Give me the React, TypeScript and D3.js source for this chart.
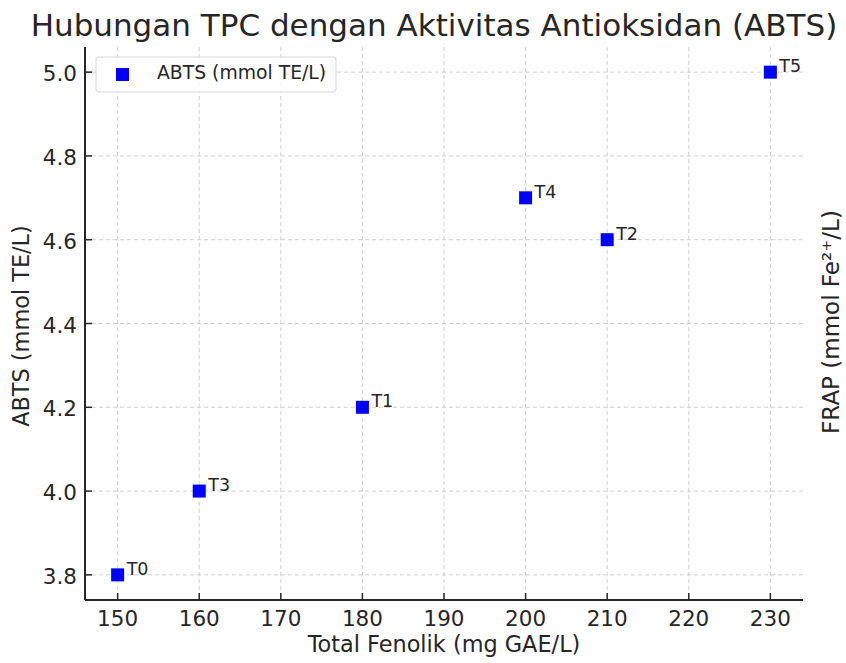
import React from "react";
import * as d3 from "d3";

const labels = ["T0", "T1", "T2", "T3", "T4", "T5"];
const tpc = [150, 180, 210, 160, 200, 230];
const abts = [3.8, 4.2, 4.6, 4.0, 4.7, 5.0];
const xTicks = [150, 160, 170, 180, 190, 200, 210, 220, 230];
const yTicks = [3.8, 4.0, 4.2, 4.4, 4.6, 4.8, 5.0];

const W = 846;
const H = 663;
const left = 85;
const right = 803;
const top = 47;
const bottom = 600;
const font = "DejaVu Sans, sans-serif";

export default function App() {
  const x = d3.scaleLinear().domain([146, 234]).range([left, right]);
  const y = d3.scaleLinear().domain([3.74, 5.06]).range([bottom, top]);
  const ink = "#262626";
  return (
    <svg width={W} height={H} style={{ position: "absolute", left: 0, top: 0, background: "#fff" }} fontFamily={font}>
      <rect width={W} height={H} fill="#fff" />
      {xTicks.map((t) => (
        <line key={"gx" + t} x1={x(t)} x2={x(t)} y1={top} y2={bottom} stroke="#cfcfcf" strokeDasharray="4,3" strokeWidth={1} />
      ))}
      {yTicks.map((t) => (
        <line key={"gy" + t} x1={left} x2={right} y1={y(t)} y2={y(t)} stroke="#cfcfcf" strokeDasharray="4,3" strokeWidth={1} />
      ))}
      <line x1={left} x2={left} y1={top} y2={bottom} stroke={ink} strokeWidth={2} />
      <line x1={left} x2={right} y1={bottom} y2={bottom} stroke={ink} strokeWidth={2} />
      {xTicks.map((t) => (
        <g key={"tx" + t}>
          <line x1={x(t)} x2={x(t)} y1={bottom} y2={bottom - 7} stroke={ink} strokeWidth={1.5} />
          <text x={x(t)} y={bottom + 26} textAnchor="middle" fontSize={21.5} fill={ink}>{t}</text>
        </g>
      ))}
      {yTicks.map((t) => (
        <g key={"ty" + t}>
          <line x1={left} x2={left + 7} y1={y(t)} y2={y(t)} stroke={ink} strokeWidth={1.5} />
          <text x={left - 8} y={y(t) + 9} textAnchor="end" fontSize={21.5} fill={ink}>{t.toFixed(1)}</text>
        </g>
      ))}
      {labels.map((l, i) => (
        <g key={l}>
          <rect x={x(tpc[i]) - 6.5} y={y(abts[i]) - 6.5} width={13} height={13} fill="#0000ff" />
          <text x={x(tpc[i]) + 9} y={y(abts[i])} fontSize={17.5} fill={ink}>{l}</text>
        </g>
      ))}
      <text x={434} y={36} textAnchor="middle" fontSize={31} fill={ink}>Hubungan TPC dengan Aktivitas Antioksidan (ABTS)</text>
      <text x={444} y={652} textAnchor="middle" fontSize={22.4} fill={ink}>Total Fenolik (mg GAE/L)</text>
      <text transform={`translate(29,326) rotate(-90)`} textAnchor="middle" fontSize={22.4} fill={ink}>ABTS (mmol TE/L)</text>
      <text transform={`translate(839,322) rotate(-90)`} textAnchor="middle" fontSize={23} fill={ink}>FRAP (mmol Fe²⁺/L)</text>
      <g>
        <rect x={96} y={57} width={240} height={35} rx={3} fill="#fff" fillOpacity={0.85} stroke="#d6d6d6" strokeWidth={1} />
        <rect x={116} y={68} width={13} height={13} fill="#0000ff" />
        <text x={157} y={78.5} fontSize={18.8} fill={ink}>ABTS (mmol TE/L)</text>
      </g>
    </svg>
  );
}
